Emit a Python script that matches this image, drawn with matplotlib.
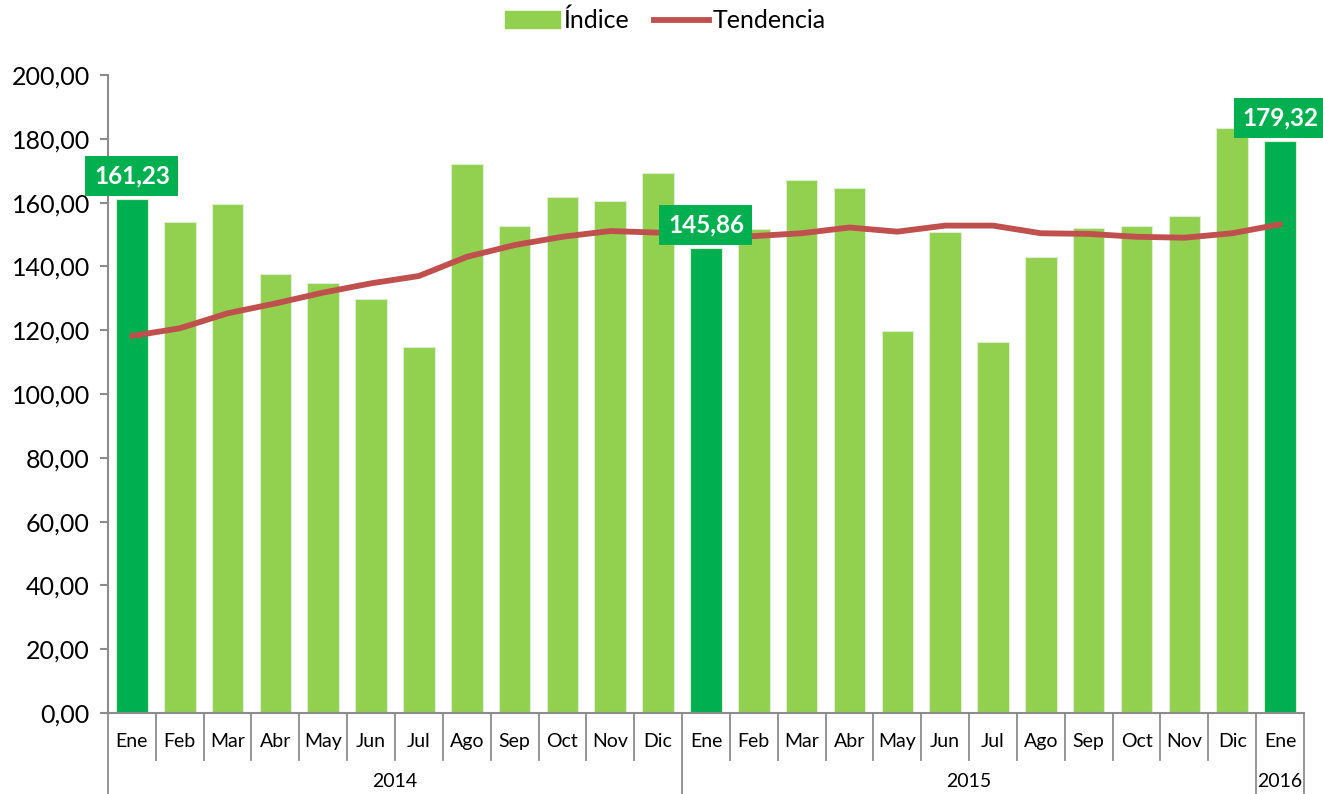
import numpy as np
import matplotlib.pyplot as plt
import matplotlib.transforms as mtransforms
from matplotlib.lines import Line2D
from matplotlib.patches import Patch

plt.rcParams['font.family'] = ['Lato', 'DejaVu Sans']

meses = ["Ene", "Feb", "Mar", "Abr", "May", "Jun", "Jul", "Ago", "Sep", "Oct", "Nov", "Dic",
         "Ene", "Feb", "Mar", "Abr", "May", "Jun", "Jul", "Ago", "Sep", "Oct", "Nov", "Dic",
         "Ene"]
anios = ["2014", "2015", "2016"]
meses_por_anio = [12, 12, 1]

indice = [161.23, 153.8, 159.7, 137.5, 134.8, 129.8, 114.8, 172.0, 152.7, 161.9, 160.5, 169.2,
          145.86, 151.6, 167.1, 164.5, 119.7, 150.8, 116.3, 143.0, 151.9, 152.8, 155.8, 183.3,
          179.32]
tendencia = [118.2, 120.6, 125.3, 128.4, 131.8, 134.7, 137.0, 143.0, 146.7, 149.3, 151.1, 150.6,
             150.0, 149.5, 150.4, 152.2, 150.9, 152.8, 152.8, 150.4, 150.2, 149.3, 149.0, 150.4,
             153.2]
destacados = [0, 12, 24]

verde_claro = "#92D050"
verde_oscuro = "#00B050"
rojo = "#C0504D"
gris = "#8c8c8c"

fig = plt.figure(figsize=(13.23, 7.94), dpi=100)
ax = fig.add_axes([0.0816, 0.102, 0.9040, 0.8035])

x = np.arange(len(indice))
colores = [verde_oscuro if i in destacados else verde_claro for i in x]
ax.bar(x, indice, width=0.66, color=colores, edgecolor="#dcefd0", linewidth=0.8, zorder=2)
ax.plot(x, tendencia, color=rojo, linewidth=4.2, solid_capstyle="round", zorder=3)

for i in destacados:
    ax.annotate(f"{indice[i]:.2f}".replace(".", ","), (x[i], indice[i]),
                xytext=(0, 8), textcoords="offset points", ha="center", va="bottom",
                color="white", fontsize=17.5, fontweight="bold", zorder=5,
                bbox=dict(boxstyle="square,pad=0.35", fc=verde_oscuro, ec="none"))

ax.set_xlim(-0.5, len(indice) - 0.5)
ax.set_ylim(0, 200)
ax.set_yticks(np.arange(0, 201, 20))
ax.set_yticklabels([f"{v:.2f}".replace(".", ",") for v in np.arange(0, 201, 20)], fontsize=18)
ax.tick_params(axis="y", length=6, color=gris, width=1.5, pad=7)
ax.set_xticks([])
for s in ["top", "right"]:
    ax.spines[s].set_visible(False)
for s in ["left", "bottom"]:
    ax.spines[s].set_color(gris)
    ax.spines[s].set_linewidth(1.5)

# eje de categorias en dos niveles
trans = mtransforms.blended_transform_factory(ax.transData, ax.transAxes)
for i, m in enumerate(meses):
    ax.text(i, -0.044, m, transform=trans, ha="center", va="center", fontsize=14)
bordes = np.cumsum([0] + meses_por_anio) - 0.5
for i in range(len(meses) + 1):
    xs = i - 0.5
    fondo = -0.127 if xs in bordes else -0.074
    ax.add_line(Line2D([xs, xs], [0, fondo], transform=trans, color=gris,
                       linewidth=1.3, clip_on=False))
for a, ini, n in zip(anios, bordes[:-1], meses_por_anio):
    ax.text(ini + n / 2, -0.107, a, transform=trans, ha="center", va="center", fontsize=14)

handles = [Patch(color=verde_claro), Line2D([0], [0], color=rojo, linewidth=4.2)]
fig.legend(handles, ["Índice", "Tendencia"], loc="center", bbox_to_anchor=(0.503, 0.974),
           ncol=2, frameon=False, fontsize=18, handlelength=2.2, handletextpad=0.15,
           columnspacing=1.0)

fig.savefig("out.png", dpi=100)
